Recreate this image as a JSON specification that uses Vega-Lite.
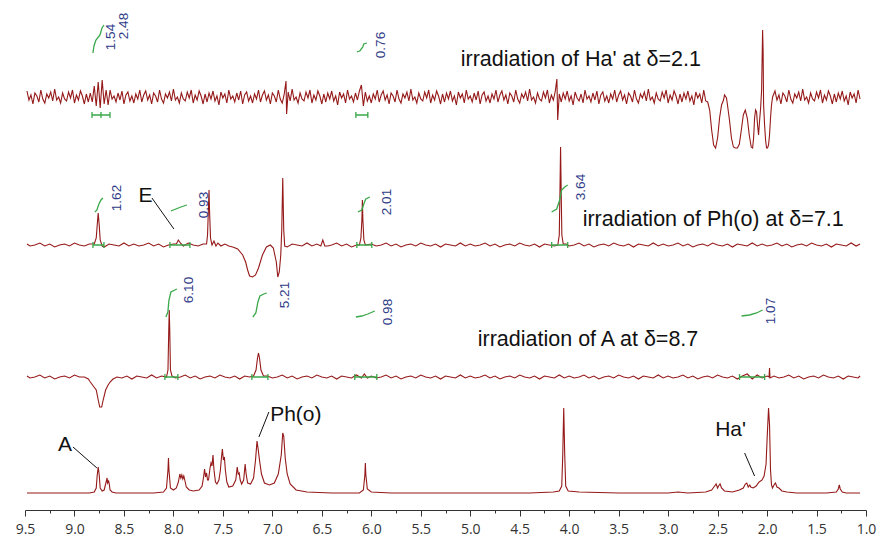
{
"$schema": "https://vega.github.io/schema/vega-lite/v6.json",
"width": 841, "height": 510,
"autosize": {"type": "none"},
"padding": {"left": 25, "top": 0, "right": 14, "bottom": 32},
"background": "white",
"config": {"view": {"stroke": null}},
"datasets": {
"spec": [
{"s":"a","x":9.48,"y":419},{"s":"a","x":9.46,"y":410},{"s":"a","x":9.44,"y":415},{"s":"a","x":9.42,"y":406},{"s":"a","x":9.40,"y":417},{"s":"a","x":9.38,"y":414},{"s":"a","x":9.36,"y":408},{"s":"a","x":9.34,"y":420},{"s":"a","x":9.32,"y":411},{"s":"a","x":9.30,"y":407},{"s":"a","x":9.28,"y":416},{"s":"a","x":9.26,"y":412},{"s":"a","x":9.24,"y":418},{"s":"a","x":9.22,"y":409},{"s":"a","x":9.20,"y":421},{"s":"a","x":9.18,"y":410},{"s":"a","x":9.16,"y":413},{"s":"a","x":9.14,"y":407},{"s":"a","x":9.12,"y":417},{"s":"a","x":9.10,"y":411},
{"s":"a","x":9.08,"y":409},{"s":"a","x":9.06,"y":418},{"s":"a","x":9.04,"y":412},{"s":"a","x":9.02,"y":420},{"s":"a","x":9.00,"y":407},{"s":"a","x":8.98,"y":415},{"s":"a","x":8.96,"y":410},{"s":"a","x":8.94,"y":419},{"s":"a","x":8.92,"y":414},{"s":"a","x":8.90,"y":406},{"s":"a","x":8.88,"y":416},{"s":"a","x":8.86,"y":408},{"s":"a","x":8.84,"y":417},{"s":"a","x":8.82,"y":408},{"s":"a","x":8.80,"y":424},{"s":"a","x":8.78,"y":404},{"s":"a","x":8.76,"y":428},{"s":"a","x":8.74,"y":402},{"s":"a","x":8.72,"y":430},{"s":"a","x":8.70,"y":406},
{"s":"a","x":8.68,"y":420},{"s":"a","x":8.66,"y":405},{"s":"a","x":8.64,"y":420},{"s":"a","x":8.62,"y":411},{"s":"a","x":8.60,"y":414},{"s":"a","x":8.58,"y":408},{"s":"a","x":8.56,"y":417},{"s":"a","x":8.54,"y":410},{"s":"a","x":8.52,"y":419},{"s":"a","x":8.50,"y":406},{"s":"a","x":8.48,"y":415},{"s":"a","x":8.46,"y":418},{"s":"a","x":8.44,"y":409},{"s":"a","x":8.42,"y":414},{"s":"a","x":8.40,"y":407},{"s":"a","x":8.38,"y":416},{"s":"a","x":8.36,"y":411},{"s":"a","x":8.34,"y":420},{"s":"a","x":8.32,"y":408},{"s":"a","x":8.30,"y":415},
{"s":"a","x":8.28,"y":419},{"s":"a","x":8.26,"y":410},{"s":"a","x":8.24,"y":415},{"s":"a","x":8.22,"y":406},{"s":"a","x":8.20,"y":417},{"s":"a","x":8.18,"y":414},{"s":"a","x":8.16,"y":408},{"s":"a","x":8.14,"y":420},{"s":"a","x":8.12,"y":411},{"s":"a","x":8.10,"y":407},{"s":"a","x":8.08,"y":416},{"s":"a","x":8.06,"y":412},{"s":"a","x":8.04,"y":418},{"s":"a","x":8.02,"y":409},{"s":"a","x":8.00,"y":421},{"s":"a","x":7.98,"y":410},{"s":"a","x":7.96,"y":413},{"s":"a","x":7.94,"y":407},{"s":"a","x":7.92,"y":417},{"s":"a","x":7.90,"y":411},
{"s":"a","x":7.88,"y":409},{"s":"a","x":7.86,"y":418},{"s":"a","x":7.84,"y":412},{"s":"a","x":7.82,"y":420},{"s":"a","x":7.80,"y":407},{"s":"a","x":7.78,"y":415},{"s":"a","x":7.76,"y":410},{"s":"a","x":7.74,"y":419},{"s":"a","x":7.72,"y":414},{"s":"a","x":7.70,"y":406},{"s":"a","x":7.68,"y":416},{"s":"a","x":7.66,"y":408},{"s":"a","x":7.64,"y":417},{"s":"a","x":7.62,"y":411},{"s":"a","x":7.60,"y":419},{"s":"a","x":7.58,"y":409},{"s":"a","x":7.56,"y":414},{"s":"a","x":7.54,"y":405},{"s":"a","x":7.52,"y":418},{"s":"a","x":7.50,"y":412},
{"s":"a","x":7.48,"y":416},{"s":"a","x":7.46,"y":407},{"s":"a","x":7.44,"y":420},{"s":"a","x":7.42,"y":411},{"s":"a","x":7.40,"y":414},{"s":"a","x":7.38,"y":408},{"s":"a","x":7.36,"y":417},{"s":"a","x":7.34,"y":410},{"s":"a","x":7.32,"y":419},{"s":"a","x":7.30,"y":406},{"s":"a","x":7.28,"y":415},{"s":"a","x":7.26,"y":418},{"s":"a","x":7.24,"y":409},{"s":"a","x":7.22,"y":414},{"s":"a","x":7.20,"y":407},{"s":"a","x":7.18,"y":416},{"s":"a","x":7.16,"y":411},{"s":"a","x":7.14,"y":420},{"s":"a","x":7.12,"y":408},{"s":"a","x":7.10,"y":415},
{"s":"a","x":7.08,"y":419},{"s":"a","x":7.06,"y":410},{"s":"a","x":7.04,"y":415},{"s":"a","x":7.02,"y":406},{"s":"a","x":7.00,"y":417},{"s":"a","x":6.98,"y":414},{"s":"a","x":6.96,"y":408},{"s":"a","x":6.94,"y":420},{"s":"a","x":6.92,"y":411},{"s":"a","x":6.90,"y":407},{"s":"a","x":6.88,"y":416},{"s":"a","x":6.862,"y":429},{"s":"a","x":6.856,"y":396},{"s":"a","x":6.84,"y":418},{"s":"a","x":6.82,"y":409},{"s":"a","x":6.80,"y":421},{"s":"a","x":6.78,"y":410},{"s":"a","x":6.76,"y":413},{"s":"a","x":6.74,"y":407},{"s":"a","x":6.72,"y":417},{"s":"a","x":6.70,"y":411},
{"s":"a","x":6.68,"y":409},{"s":"a","x":6.66,"y":418},{"s":"a","x":6.64,"y":412},{"s":"a","x":6.62,"y":420},{"s":"a","x":6.60,"y":407},{"s":"a","x":6.58,"y":415},{"s":"a","x":6.56,"y":410},{"s":"a","x":6.54,"y":419},{"s":"a","x":6.52,"y":414},{"s":"a","x":6.50,"y":406},{"s":"a","x":6.48,"y":416},{"s":"a","x":6.46,"y":408},{"s":"a","x":6.44,"y":417},{"s":"a","x":6.42,"y":411},{"s":"a","x":6.40,"y":419},{"s":"a","x":6.38,"y":409},{"s":"a","x":6.36,"y":414},{"s":"a","x":6.34,"y":405},{"s":"a","x":6.32,"y":418},{"s":"a","x":6.30,"y":412},
{"s":"a","x":6.28,"y":416},{"s":"a","x":6.26,"y":407},{"s":"a","x":6.24,"y":420},{"s":"a","x":6.22,"y":411},{"s":"a","x":6.20,"y":414},{"s":"a","x":6.18,"y":408},{"s":"a","x":6.16,"y":417},{"s":"a","x":6.14,"y":410},{"s":"a","x":6.12,"y":419},{"s":"a","x":6.10,"y":425},{"s":"a","x":6.08,"y":404},{"s":"a","x":6.06,"y":418},{"s":"a","x":6.04,"y":409},{"s":"a","x":6.02,"y":414},{"s":"a","x":6.00,"y":407},{"s":"a","x":5.98,"y":416},{"s":"a","x":5.96,"y":411},{"s":"a","x":5.94,"y":420},{"s":"a","x":5.92,"y":408},{"s":"a","x":5.90,"y":415},
{"s":"a","x":5.88,"y":419},{"s":"a","x":5.86,"y":410},{"s":"a","x":5.84,"y":415},{"s":"a","x":5.82,"y":406},{"s":"a","x":5.80,"y":417},{"s":"a","x":5.78,"y":414},{"s":"a","x":5.76,"y":408},{"s":"a","x":5.74,"y":420},{"s":"a","x":5.72,"y":411},{"s":"a","x":5.70,"y":407},{"s":"a","x":5.68,"y":416},{"s":"a","x":5.66,"y":412},{"s":"a","x":5.64,"y":418},{"s":"a","x":5.62,"y":409},{"s":"a","x":5.60,"y":421},{"s":"a","x":5.58,"y":410},{"s":"a","x":5.56,"y":413},{"s":"a","x":5.54,"y":407},{"s":"a","x":5.52,"y":417},{"s":"a","x":5.50,"y":411},
{"s":"a","x":5.48,"y":409},{"s":"a","x":5.46,"y":418},{"s":"a","x":5.44,"y":412},{"s":"a","x":5.42,"y":420},{"s":"a","x":5.40,"y":407},{"s":"a","x":5.38,"y":415},{"s":"a","x":5.36,"y":410},{"s":"a","x":5.34,"y":419},{"s":"a","x":5.32,"y":414},{"s":"a","x":5.30,"y":406},{"s":"a","x":5.28,"y":416},{"s":"a","x":5.26,"y":408},{"s":"a","x":5.24,"y":417},{"s":"a","x":5.22,"y":411},{"s":"a","x":5.20,"y":419},{"s":"a","x":5.18,"y":409},{"s":"a","x":5.16,"y":414},{"s":"a","x":5.14,"y":405},{"s":"a","x":5.12,"y":418},{"s":"a","x":5.10,"y":412},
{"s":"a","x":5.08,"y":416},{"s":"a","x":5.06,"y":407},{"s":"a","x":5.04,"y":420},{"s":"a","x":5.02,"y":411},{"s":"a","x":5.00,"y":414},{"s":"a","x":4.98,"y":408},{"s":"a","x":4.96,"y":417},{"s":"a","x":4.94,"y":410},{"s":"a","x":4.92,"y":419},{"s":"a","x":4.90,"y":406},{"s":"a","x":4.88,"y":415},{"s":"a","x":4.86,"y":418},{"s":"a","x":4.84,"y":409},{"s":"a","x":4.82,"y":414},{"s":"a","x":4.80,"y":407},{"s":"a","x":4.78,"y":416},{"s":"a","x":4.76,"y":411},{"s":"a","x":4.74,"y":420},{"s":"a","x":4.72,"y":408},{"s":"a","x":4.70,"y":415},
{"s":"a","x":4.68,"y":419},{"s":"a","x":4.66,"y":410},{"s":"a","x":4.64,"y":415},{"s":"a","x":4.62,"y":406},{"s":"a","x":4.60,"y":417},{"s":"a","x":4.58,"y":414},{"s":"a","x":4.56,"y":408},{"s":"a","x":4.54,"y":420},{"s":"a","x":4.52,"y":411},{"s":"a","x":4.50,"y":407},{"s":"a","x":4.48,"y":416},{"s":"a","x":4.46,"y":412},{"s":"a","x":4.44,"y":418},{"s":"a","x":4.42,"y":409},{"s":"a","x":4.40,"y":421},{"s":"a","x":4.38,"y":410},{"s":"a","x":4.36,"y":413},{"s":"a","x":4.34,"y":407},{"s":"a","x":4.32,"y":417},{"s":"a","x":4.30,"y":411},
{"s":"a","x":4.28,"y":409},{"s":"a","x":4.26,"y":418},{"s":"a","x":4.24,"y":412},{"s":"a","x":4.22,"y":420},{"s":"a","x":4.20,"y":407},{"s":"a","x":4.18,"y":415},{"s":"a","x":4.16,"y":410},{"s":"a","x":4.14,"y":419},{"s":"a","x":4.124,"y":431},{"s":"a","x":4.116,"y":390},{"s":"a","x":4.10,"y":416},{"s":"a","x":4.08,"y":408},{"s":"a","x":4.06,"y":417},{"s":"a","x":4.04,"y":411},{"s":"a","x":4.02,"y":419},{"s":"a","x":4.00,"y":409},{"s":"a","x":3.98,"y":414},{"s":"a","x":3.96,"y":405},{"s":"a","x":3.94,"y":418},{"s":"a","x":3.92,"y":412},
{"s":"a","x":3.90,"y":409},{"s":"a","x":3.88,"y":416},{"s":"a","x":3.86,"y":407},{"s":"a","x":3.84,"y":420},{"s":"a","x":3.82,"y":411},{"s":"a","x":3.80,"y":414},{"s":"a","x":3.78,"y":408},{"s":"a","x":3.76,"y":417},{"s":"a","x":3.74,"y":410},{"s":"a","x":3.72,"y":419},{"s":"a","x":3.70,"y":406},{"s":"a","x":3.68,"y":415},{"s":"a","x":3.66,"y":418},{"s":"a","x":3.64,"y":409},{"s":"a","x":3.62,"y":414},{"s":"a","x":3.60,"y":407},{"s":"a","x":3.58,"y":416},{"s":"a","x":3.56,"y":411},{"s":"a","x":3.54,"y":420},{"s":"a","x":3.52,"y":408},{"s":"a","x":3.50,"y":415},
{"s":"a","x":3.48,"y":419},{"s":"a","x":3.46,"y":410},{"s":"a","x":3.44,"y":415},{"s":"a","x":3.42,"y":406},{"s":"a","x":3.40,"y":417},{"s":"a","x":3.38,"y":414},{"s":"a","x":3.36,"y":408},{"s":"a","x":3.34,"y":420},{"s":"a","x":3.32,"y":411},{"s":"a","x":3.30,"y":407},{"s":"a","x":3.28,"y":416},{"s":"a","x":3.26,"y":412},{"s":"a","x":3.24,"y":418},{"s":"a","x":3.22,"y":409},{"s":"a","x":3.20,"y":421},{"s":"a","x":3.18,"y":410},{"s":"a","x":3.16,"y":413},{"s":"a","x":3.14,"y":407},{"s":"a","x":3.12,"y":417},{"s":"a","x":3.10,"y":411},
{"s":"a","x":3.08,"y":409},{"s":"a","x":3.06,"y":418},{"s":"a","x":3.04,"y":412},{"s":"a","x":3.02,"y":420},{"s":"a","x":3.00,"y":407},{"s":"a","x":2.98,"y":415},{"s":"a","x":2.96,"y":410},{"s":"a","x":2.94,"y":419},{"s":"a","x":2.92,"y":414},{"s":"a","x":2.90,"y":406},{"s":"a","x":2.88,"y":416},{"s":"a","x":2.86,"y":408},{"s":"a","x":2.84,"y":417},{"s":"a","x":2.82,"y":411},{"s":"a","x":2.80,"y":419},{"s":"a","x":2.78,"y":409},{"s":"a","x":2.76,"y":414},{"s":"a","x":2.74,"y":405},{"s":"a","x":2.72,"y":418},{"s":"a","x":2.70,"y":412},
{"s":"a","x":2.68,"y":416},{"s":"a","x":2.66,"y":407},{"s":"a","x":2.64,"y":420},
{"s":"a","x":2.62,"y":409},{"s":"a","x":2.60,"y":408},{"s":"a","x":2.58,"y":400},{"s":"a","x":2.56,"y":380},{"s":"a","x":2.54,"y":365},{"s":"a","x":2.52,"y":362},{"s":"a","x":2.50,"y":372},{"s":"a","x":2.48,"y":392},{"s":"a","x":2.46,"y":405},{"s":"a","x":2.44,"y":410},{"s":"a","x":2.43,"y":415},{"s":"a","x":2.41,"y":412},{"s":"a","x":2.40,"y":405},{"s":"a","x":2.38,"y":390},{"s":"a","x":2.36,"y":372},{"s":"a","x":2.34,"y":363},{"s":"a","x":2.32,"y":362},{"s":"a","x":2.30,"y":362},{"s":"a","x":2.28,"y":366},{"s":"a","x":2.26,"y":380},{"s":"a","x":2.24,"y":395},{"s":"a","x":2.22,"y":400},{"s":"a","x":2.20,"y":392},{"s":"a","x":2.18,"y":375},{"s":"a","x":2.16,"y":363},{"s":"a","x":2.146,"y":362},{"s":"a","x":2.136,"y":372},{"s":"a","x":2.126,"y":392},{"s":"a","x":2.116,"y":400},{"s":"a","x":2.106,"y":398},{"s":"a","x":2.096,"y":385},{"s":"a","x":2.086,"y":375},{"s":"a","x":2.075,"y":390},{"s":"a","x":2.065,"y":402},{"s":"a","x":2.055,"y":420},{"s":"a","x":2.045,"y":480},{"s":"a","x":2.04,"y":460},{"s":"a","x":2.035,"y":405},{"s":"a","x":2.025,"y":385},{"s":"a","x":2.015,"y":370},{"s":"a","x":2.005,"y":362},{"s":"a","x":1.995,"y":362},{"s":"a","x":1.985,"y":365},{"s":"a","x":1.975,"y":375},{"s":"a","x":1.965,"y":392},{"s":"a","x":1.955,"y":405},{"s":"a","x":1.944,"y":413},
{"s":"a","x":1.92,"y":419},{"s":"a","x":1.90,"y":410},{"s":"a","x":1.88,"y":415},{"s":"a","x":1.86,"y":406},{"s":"a","x":1.84,"y":417},{"s":"a","x":1.82,"y":414},{"s":"a","x":1.80,"y":408},{"s":"a","x":1.78,"y":420},{"s":"a","x":1.76,"y":411},{"s":"a","x":1.74,"y":407},{"s":"a","x":1.72,"y":416},{"s":"a","x":1.70,"y":412},{"s":"a","x":1.68,"y":418},{"s":"a","x":1.66,"y":409},{"s":"a","x":1.64,"y":421},{"s":"a","x":1.62,"y":410},{"s":"a","x":1.60,"y":413},{"s":"a","x":1.58,"y":407},{"s":"a","x":1.56,"y":417},{"s":"a","x":1.54,"y":411},
{"s":"a","x":1.52,"y":409},{"s":"a","x":1.50,"y":418},{"s":"a","x":1.48,"y":412},{"s":"a","x":1.46,"y":420},{"s":"a","x":1.44,"y":407},{"s":"a","x":1.42,"y":415},{"s":"a","x":1.40,"y":410},{"s":"a","x":1.38,"y":419},{"s":"a","x":1.36,"y":414},{"s":"a","x":1.34,"y":406},{"s":"a","x":1.32,"y":416},{"s":"a","x":1.30,"y":408},{"s":"a","x":1.28,"y":417},{"s":"a","x":1.26,"y":411},{"s":"a","x":1.24,"y":419},{"s":"a","x":1.22,"y":409},{"s":"a","x":1.20,"y":414},{"s":"a","x":1.18,"y":405},{"s":"a","x":1.16,"y":418},{"s":"a","x":1.14,"y":412},{"s":"a","x":1.12,"y":416},{"s":"a","x":1.10,"y":407},{"s":"a","x":1.08,"y":420},{"s":"a","x":1.06,"y":411},

{"s":"b","x":9.48,"y":266},{"s":"b","x":9.45,"y":264},{"s":"b","x":9.40,"y":265},{"s":"b","x":9.35,"y":267},{"s":"b","x":9.30,"y":264},{"s":"b","x":9.25,"y":266},{"s":"b","x":9.20,"y":263},{"s":"b","x":9.15,"y":265},{"s":"b","x":9.10,"y":266},{"s":"b","x":9.05,"y":264},{"s":"b","x":9.00,"y":267},{"s":"b","x":8.95,"y":265},{"s":"b","x":8.90,"y":264},{"s":"b","x":8.85,"y":266},
{"s":"b","x":8.80,"y":266},{"s":"b","x":8.78,"y":272},{"s":"b","x":8.77,"y":285},{"s":"b","x":8.76,"y":297},{"s":"b","x":8.75,"y":285},{"s":"b","x":8.74,"y":270},{"s":"b","x":8.72,"y":264},
{"s":"b","x":8.70,"y":263},{"s":"b","x":8.65,"y":266},{"s":"b","x":8.60,"y":265},{"s":"b","x":8.55,"y":264},{"s":"b","x":8.50,"y":267},{"s":"b","x":8.45,"y":264},{"s":"b","x":8.40,"y":266},{"s":"b","x":8.35,"y":264},{"s":"b","x":8.30,"y":265},{"s":"b","x":8.25,"y":267},{"s":"b","x":8.20,"y":264},{"s":"b","x":8.15,"y":266},{"s":"b","x":8.10,"y":263},{"s":"b","x":8.05,"y":265},{"s":"b","x":8.00,"y":266},
{"s":"b","x":7.97,"y":266},{"s":"b","x":7.95,"y":270},{"s":"b","x":7.93,"y":267},
{"s":"b","x":7.90,"y":264},{"s":"b","x":7.85,"y":267},{"s":"b","x":7.80,"y":265},{"s":"b","x":7.75,"y":264},{"s":"b","x":7.70,"y":266},
{"s":"b","x":7.665,"y":266},{"s":"b","x":7.655,"y":275},{"s":"b","x":7.645,"y":305},{"s":"b","x":7.64,"y":320},{"s":"b","x":7.635,"y":300},{"s":"b","x":7.625,"y":272},{"s":"b","x":7.61,"y":265},{"s":"b","x":7.59,"y":269},{"s":"b","x":7.57,"y":264},{"s":"b","x":7.55,"y":267},{"s":"b","x":7.52,"y":264},{"s":"b","x":7.48,"y":266},{"s":"b","x":7.44,"y":264},
{"s":"b","x":7.40,"y":263},{"s":"b","x":7.35,"y":261},{"s":"b","x":7.30,"y":255},{"s":"b","x":7.27,"y":248},{"s":"b","x":7.25,"y":240},{"s":"b","x":7.23,"y":234},{"s":"b","x":7.20,"y":233},{"s":"b","x":7.17,"y":235},{"s":"b","x":7.14,"y":242},{"s":"b","x":7.10,"y":255},{"s":"b","x":7.06,"y":263},{"s":"b","x":7.02,"y":265},{"s":"b","x":6.99,"y":262},{"s":"b","x":6.96,"y":248},{"s":"b","x":6.945,"y":233},{"s":"b","x":6.93,"y":238},{"s":"b","x":6.915,"y":255},{"s":"b","x":6.905,"y":280},{"s":"b","x":6.895,"y":332},{"s":"b","x":6.885,"y":280},{"s":"b","x":6.875,"y":264},
{"s":"b","x":6.85,"y":263},{"s":"b","x":6.80,"y":266},{"s":"b","x":6.75,"y":265},{"s":"b","x":6.70,"y":264},{"s":"b","x":6.65,"y":267},{"s":"b","x":6.60,"y":264},{"s":"b","x":6.55,"y":266},{"s":"b","x":6.51,"y":264},{"s":"b","x":6.49,"y":270},{"s":"b","x":6.47,"y":264},{"s":"b","x":6.44,"y":264},{"s":"b","x":6.40,"y":265},{"s":"b","x":6.35,"y":267},{"s":"b","x":6.30,"y":264},{"s":"b","x":6.25,"y":266},{"s":"b","x":6.20,"y":263},{"s":"b","x":6.15,"y":265},
{"s":"b","x":6.12,"y":265},{"s":"b","x":6.105,"y":272},{"s":"b","x":6.095,"y":290},{"s":"b","x":6.09,"y":310},{"s":"b","x":6.085,"y":290},{"s":"b","x":6.075,"y":270},{"s":"b","x":6.06,"y":265},
{"s":"b","x":6.00,"y":266},{"s":"b","x":5.95,"y":264},{"s":"b","x":5.90,"y":265},{"s":"b","x":5.85,"y":267},{"s":"b","x":5.80,"y":264},{"s":"b","x":5.75,"y":266},{"s":"b","x":5.70,"y":263},{"s":"b","x":5.65,"y":265},{"s":"b","x":5.60,"y":266},{"s":"b","x":5.55,"y":264},{"s":"b","x":5.50,"y":267},{"s":"b","x":5.45,"y":265},{"s":"b","x":5.40,"y":264},{"s":"b","x":5.35,"y":266},{"s":"b","x":5.30,"y":263},{"s":"b","x":5.25,"y":266},{"s":"b","x":5.20,"y":265},{"s":"b","x":5.15,"y":264},{"s":"b","x":5.10,"y":267},{"s":"b","x":5.05,"y":264},{"s":"b","x":5.00,"y":266},{"s":"b","x":4.95,"y":264},{"s":"b","x":4.90,"y":265},{"s":"b","x":4.85,"y":267},{"s":"b","x":4.80,"y":264},{"s":"b","x":4.75,"y":266},{"s":"b","x":4.70,"y":263},{"s":"b","x":4.65,"y":265},{"s":"b","x":4.60,"y":266},{"s":"b","x":4.55,"y":264},{"s":"b","x":4.50,"y":267},{"s":"b","x":4.45,"y":265},{"s":"b","x":4.40,"y":264},{"s":"b","x":4.35,"y":266},{"s":"b","x":4.30,"y":263},{"s":"b","x":4.25,"y":266},{"s":"b","x":4.20,"y":265},{"s":"b","x":4.15,"y":264},
{"s":"b","x":4.115,"y":265},{"s":"b","x":4.10,"y":275},{"s":"b","x":4.093,"y":320},{"s":"b","x":4.087,"y":363},{"s":"b","x":4.081,"y":320},{"s":"b","x":4.074,"y":275},{"s":"b","x":4.06,"y":266},
{"s":"b","x":4.03,"y":266},{"s":"b","x":4.00,"y":264},{"s":"b","x":3.95,"y":265},{"s":"b","x":3.90,"y":267},{"s":"b","x":3.85,"y":264},{"s":"b","x":3.80,"y":266},{"s":"b","x":3.75,"y":263},{"s":"b","x":3.70,"y":265},{"s":"b","x":3.65,"y":266},{"s":"b","x":3.60,"y":264},{"s":"b","x":3.55,"y":267},{"s":"b","x":3.50,"y":265},{"s":"b","x":3.45,"y":264},{"s":"b","x":3.40,"y":266},{"s":"b","x":3.35,"y":263},{"s":"b","x":3.30,"y":266},{"s":"b","x":3.25,"y":265},{"s":"b","x":3.20,"y":264},{"s":"b","x":3.15,"y":267},{"s":"b","x":3.10,"y":264},{"s":"b","x":3.05,"y":266},{"s":"b","x":3.00,"y":264},{"s":"b","x":2.95,"y":265},{"s":"b","x":2.90,"y":267},{"s":"b","x":2.85,"y":264},{"s":"b","x":2.80,"y":266},{"s":"b","x":2.75,"y":263},{"s":"b","x":2.70,"y":265},{"s":"b","x":2.65,"y":266},{"s":"b","x":2.60,"y":264},{"s":"b","x":2.55,"y":267},{"s":"b","x":2.50,"y":265},{"s":"b","x":2.45,"y":264},{"s":"b","x":2.40,"y":266},{"s":"b","x":2.35,"y":263},{"s":"b","x":2.30,"y":266},{"s":"b","x":2.25,"y":265},{"s":"b","x":2.20,"y":264},{"s":"b","x":2.15,"y":267},{"s":"b","x":2.10,"y":264},{"s":"b","x":2.05,"y":266},{"s":"b","x":2.00,"y":264},{"s":"b","x":1.95,"y":265},{"s":"b","x":1.90,"y":267},{"s":"b","x":1.85,"y":264},{"s":"b","x":1.80,"y":266},{"s":"b","x":1.75,"y":263},{"s":"b","x":1.70,"y":265},{"s":"b","x":1.65,"y":266},{"s":"b","x":1.60,"y":264},{"s":"b","x":1.55,"y":267},{"s":"b","x":1.50,"y":265},{"s":"b","x":1.45,"y":264},{"s":"b","x":1.40,"y":266},{"s":"b","x":1.35,"y":263},{"s":"b","x":1.30,"y":266},{"s":"b","x":1.25,"y":265},{"s":"b","x":1.20,"y":264},{"s":"b","x":1.15,"y":267},{"s":"b","x":1.10,"y":264},{"s":"b","x":1.06,"y":266},

{"s":"c","x":9.48,"y":134},{"s":"c","x":9.45,"y":132},{"s":"c","x":9.40,"y":133},{"s":"c","x":9.35,"y":135},{"s":"c","x":9.30,"y":132},{"s":"c","x":9.25,"y":134},{"s":"c","x":9.20,"y":131},{"s":"c","x":9.15,"y":133},{"s":"c","x":9.10,"y":134},{"s":"c","x":9.05,"y":132},{"s":"c","x":9.00,"y":135},{"s":"c","x":8.95,"y":133},
{"s":"c","x":8.90,"y":133},{"s":"c","x":8.86,"y":131},{"s":"c","x":8.84,"y":128},{"s":"c","x":8.81,"y":124},{"s":"c","x":8.78,"y":120},{"s":"c","x":8.76,"y":110},{"s":"c","x":8.745,"y":103},{"s":"c","x":8.725,"y":103},{"s":"c","x":8.71,"y":110},{"s":"c","x":8.685,"y":120},{"s":"c","x":8.66,"y":125},{"s":"c","x":8.64,"y":128},{"s":"c","x":8.61,"y":131},{"s":"c","x":8.57,"y":133},
{"s":"c","x":8.52,"y":132},{"s":"c","x":8.47,"y":134},{"s":"c","x":8.42,"y":131},{"s":"c","x":8.37,"y":134},{"s":"c","x":8.32,"y":133},{"s":"c","x":8.27,"y":132},{"s":"c","x":8.22,"y":135},{"s":"c","x":8.17,"y":132},{"s":"c","x":8.12,"y":134},
{"s":"c","x":8.07,"y":133},{"s":"c","x":8.055,"y":140},{"s":"c","x":8.047,"y":180},{"s":"c","x":8.042,"y":200},{"s":"c","x":8.037,"y":180},{"s":"c","x":8.03,"y":140},{"s":"c","x":8.015,"y":134},
{"s":"c","x":7.98,"y":132},{"s":"c","x":7.93,"y":133},{"s":"c","x":7.88,"y":135},{"s":"c","x":7.83,"y":132},{"s":"c","x":7.78,"y":134},{"s":"c","x":7.73,"y":131},{"s":"c","x":7.68,"y":133},{"s":"c","x":7.63,"y":134},{"s":"c","x":7.58,"y":132},{"s":"c","x":7.53,"y":135},{"s":"c","x":7.48,"y":133},{"s":"c","x":7.43,"y":132},{"s":"c","x":7.38,"y":134},{"s":"c","x":7.33,"y":131},{"s":"c","x":7.28,"y":134},{"s":"c","x":7.23,"y":133},
{"s":"c","x":7.19,"y":134},{"s":"c","x":7.165,"y":140},{"s":"c","x":7.15,"y":152},{"s":"c","x":7.14,"y":157},{"s":"c","x":7.13,"y":152},{"s":"c","x":7.115,"y":140},{"s":"c","x":7.09,"y":134},
{"s":"c","x":7.05,"y":134},{"s":"c","x":7.00,"y":132},{"s":"c","x":6.95,"y":133},{"s":"c","x":6.90,"y":135},{"s":"c","x":6.85,"y":132},{"s":"c","x":6.80,"y":134},{"s":"c","x":6.75,"y":131},{"s":"c","x":6.70,"y":133},{"s":"c","x":6.65,"y":134},{"s":"c","x":6.60,"y":132},{"s":"c","x":6.55,"y":135},{"s":"c","x":6.50,"y":133},{"s":"c","x":6.45,"y":132},{"s":"c","x":6.40,"y":134},{"s":"c","x":6.35,"y":131},{"s":"c","x":6.30,"y":134},{"s":"c","x":6.25,"y":133},{"s":"c","x":6.20,"y":132},{"s":"c","x":6.15,"y":135},{"s":"c","x":6.10,"y":132},{"s":"c","x":6.07,"y":136},{"s":"c","x":6.04,"y":132},{"s":"c","x":6.00,"y":134},{"s":"c","x":5.95,"y":132},{"s":"c","x":5.90,"y":133},{"s":"c","x":5.85,"y":135},{"s":"c","x":5.80,"y":132},{"s":"c","x":5.75,"y":134},{"s":"c","x":5.70,"y":131},{"s":"c","x":5.65,"y":133},{"s":"c","x":5.60,"y":134},{"s":"c","x":5.55,"y":132},{"s":"c","x":5.50,"y":135},{"s":"c","x":5.45,"y":133},{"s":"c","x":5.40,"y":132},{"s":"c","x":5.35,"y":134},{"s":"c","x":5.30,"y":131},{"s":"c","x":5.25,"y":134},{"s":"c","x":5.20,"y":133},{"s":"c","x":5.15,"y":132},{"s":"c","x":5.10,"y":135},{"s":"c","x":5.05,"y":132},{"s":"c","x":5.00,"y":134},{"s":"c","x":4.95,"y":132},{"s":"c","x":4.90,"y":133},{"s":"c","x":4.85,"y":135},{"s":"c","x":4.80,"y":132},{"s":"c","x":4.75,"y":134},{"s":"c","x":4.70,"y":131},{"s":"c","x":4.65,"y":133},{"s":"c","x":4.60,"y":134},{"s":"c","x":4.55,"y":132},{"s":"c","x":4.50,"y":135},{"s":"c","x":4.45,"y":133},{"s":"c","x":4.40,"y":132},{"s":"c","x":4.35,"y":134},{"s":"c","x":4.30,"y":131},{"s":"c","x":4.25,"y":134},{"s":"c","x":4.20,"y":133},{"s":"c","x":4.15,"y":132},{"s":"c","x":4.10,"y":135},{"s":"c","x":4.05,"y":132},{"s":"c","x":4.00,"y":134},{"s":"c","x":3.95,"y":132},{"s":"c","x":3.90,"y":133},{"s":"c","x":3.85,"y":135},{"s":"c","x":3.80,"y":132},{"s":"c","x":3.75,"y":134},{"s":"c","x":3.70,"y":131},{"s":"c","x":3.65,"y":133},{"s":"c","x":3.60,"y":134},{"s":"c","x":3.55,"y":132},{"s":"c","x":3.50,"y":135},{"s":"c","x":3.45,"y":133},{"s":"c","x":3.40,"y":132},{"s":"c","x":3.35,"y":134},{"s":"c","x":3.30,"y":131},{"s":"c","x":3.25,"y":134},{"s":"c","x":3.20,"y":133},{"s":"c","x":3.15,"y":132},{"s":"c","x":3.10,"y":135},{"s":"c","x":3.05,"y":132},{"s":"c","x":3.00,"y":134},{"s":"c","x":2.95,"y":132},{"s":"c","x":2.90,"y":133},{"s":"c","x":2.85,"y":135},{"s":"c","x":2.80,"y":132},{"s":"c","x":2.75,"y":134},{"s":"c","x":2.70,"y":131},{"s":"c","x":2.65,"y":133},{"s":"c","x":2.60,"y":134},{"s":"c","x":2.55,"y":132},{"s":"c","x":2.50,"y":135},{"s":"c","x":2.45,"y":133},{"s":"c","x":2.40,"y":132},{"s":"c","x":2.35,"y":134},{"s":"c","x":2.30,"y":131},{"s":"c","x":2.25,"y":134},{"s":"c","x":2.20,"y":136},{"s":"c","x":2.15,"y":131},{"s":"c","x":2.10,"y":135},{"s":"c","x":2.05,"y":132},{"s":"c","x":2.00,"y":134},
{"s":"c","x":1.98,"y":133},{"s":"c","x":1.975,"y":142},{"s":"c","x":1.97,"y":132},
{"s":"c","x":1.93,"y":134},{"s":"c","x":1.88,"y":132},{"s":"c","x":1.83,"y":133},{"s":"c","x":1.78,"y":135},{"s":"c","x":1.73,"y":132},{"s":"c","x":1.68,"y":134},{"s":"c","x":1.63,"y":131},{"s":"c","x":1.58,"y":133},{"s":"c","x":1.53,"y":134},{"s":"c","x":1.48,"y":132},{"s":"c","x":1.43,"y":135},{"s":"c","x":1.38,"y":133},{"s":"c","x":1.33,"y":132},{"s":"c","x":1.28,"y":134},{"s":"c","x":1.23,"y":131},{"s":"c","x":1.18,"y":134},{"s":"c","x":1.13,"y":133},{"s":"c","x":1.08,"y":132},{"s":"c","x":1.06,"y":134},

{"s":"d","x":9.48,"y":17},{"s":"d","x":9.0,"y":17},{"s":"d","x":8.85,"y":17},{"s":"d","x":8.80,"y":18},{"s":"d","x":8.78,"y":22},{"s":"d","x":8.77,"y":35},{"s":"d","x":8.76,"y":43},{"s":"d","x":8.75,"y":35},{"s":"d","x":8.74,"y":22},{"s":"d","x":8.72,"y":19},{"s":"d","x":8.70,"y":20},{"s":"d","x":8.68,"y":28},{"s":"d","x":8.67,"y":32},{"s":"d","x":8.665,"y":27},{"s":"d","x":8.655,"y":29},{"s":"d","x":8.65,"y":27},{"s":"d","x":8.64,"y":20},{"s":"d","x":8.62,"y":18},{"s":"d","x":8.58,"y":17},{"s":"d","x":8.2,"y":17},{"s":"d","x":8.10,"y":18},{"s":"d","x":8.07,"y":22},{"s":"d","x":8.055,"y":40},{"s":"d","x":8.05,"y":52},{"s":"d","x":8.045,"y":40},{"s":"d","x":8.03,"y":22},{"s":"d","x":8.00,"y":20},{"s":"d","x":7.97,"y":22},{"s":"d","x":7.95,"y":28},{"s":"d","x":7.935,"y":36},{"s":"d","x":7.925,"y":32},{"s":"d","x":7.915,"y":35},{"s":"d","x":7.905,"y":31},{"s":"d","x":7.895,"y":34},{"s":"d","x":7.885,"y":30},{"s":"d","x":7.87,"y":23},{"s":"d","x":7.84,"y":20},{"s":"d","x":7.80,"y":19},{"s":"d","x":7.74,"y":20},{"s":"d","x":7.71,"y":24},{"s":"d","x":7.695,"y":33},{"s":"d","x":7.685,"y":41},{"s":"d","x":7.675,"y":33},{"s":"d","x":7.665,"y":37},{"s":"d","x":7.655,"y":30},{"s":"d","x":7.645,"y":30},{"s":"d","x":7.63,"y":42},{"s":"d","x":7.62,"y":47},{"s":"d","x":7.61,"y":44},{"s":"d","x":7.60,"y":55},{"s":"d","x":7.59,"y":40},{"s":"d","x":7.575,"y":28},{"s":"d","x":7.56,"y":26},{"s":"d","x":7.54,"y":30},{"s":"d","x":7.525,"y":40},{"s":"d","x":7.515,"y":52},{"s":"d","x":7.505,"y":61},{"s":"d","x":7.495,"y":50},{"s":"d","x":7.485,"y":53},{"s":"d","x":7.475,"y":40},{"s":"d","x":7.46,"y":28},{"s":"d","x":7.44,"y":23},{"s":"d","x":7.40,"y":24},{"s":"d","x":7.37,"y":30},{"s":"d","x":7.355,"y":43},{"s":"d","x":7.345,"y":36},{"s":"d","x":7.335,"y":37},{"s":"d","x":7.325,"y":30},{"s":"d","x":7.31,"y":26},{"s":"d","x":7.29,"y":30},{"s":"d","x":7.275,"y":46},{"s":"d","x":7.265,"y":36},{"s":"d","x":7.25,"y":27},{"s":"d","x":7.22,"y":26},{"s":"d","x":7.19,"y":32},{"s":"d","x":7.17,"y":50},{"s":"d","x":7.155,"y":69},{"s":"d","x":7.145,"y":62},{"s":"d","x":7.13,"y":50},{"s":"d","x":7.11,"y":36},{"s":"d","x":7.08,"y":27},{"s":"d","x":7.03,"y":25},{"s":"d","x":6.98,"y":27},{"s":"d","x":6.94,"y":36},{"s":"d","x":6.91,"y":55},{"s":"d","x":6.895,"y":77},{"s":"d","x":6.885,"y":74},{"s":"d","x":6.87,"y":52},{"s":"d","x":6.85,"y":36},{"s":"d","x":6.82,"y":26},{"s":"d","x":6.76,"y":20},{"s":"d","x":6.65,"y":18},{"s":"d","x":6.4,"y":17},{"s":"d","x":6.12,"y":17},{"s":"d","x":6.08,"y":20},{"s":"d","x":6.065,"y":35},{"s":"d","x":6.06,"y":47},{"s":"d","x":6.055,"y":35},{"s":"d","x":6.04,"y":21},{"s":"d","x":6.0,"y":18},{"s":"d","x":5.8,"y":17},{"s":"d","x":5.0,"y":17},{"s":"d","x":4.4,"y":17},{"s":"d","x":4.16,"y":18},{"s":"d","x":4.10,"y":19},{"s":"d","x":4.075,"y":24},{"s":"d","x":4.065,"y":55},{"s":"d","x":4.055,"y":102},{"s":"d","x":4.045,"y":55},{"s":"d","x":4.035,"y":24},{"s":"d","x":4.01,"y":19},{"s":"d","x":3.9,"y":18},{"s":"d","x":3.5,"y":17},{"s":"d","x":3.0,"y":17},{"s":"d","x":2.9,"y":18},{"s":"d","x":2.8,"y":17},{"s":"d","x":2.62,"y":18},{"s":"d","x":2.56,"y":20},{"s":"d","x":2.53,"y":24},{"s":"d","x":2.515,"y":26},{"s":"d","x":2.50,"y":22},{"s":"d","x":2.49,"y":24},{"s":"d","x":2.475,"y":26},{"s":"d","x":2.46,"y":22},{"s":"d","x":2.43,"y":19},{"s":"d","x":2.35,"y":18},{"s":"d","x":2.28,"y":20},{"s":"d","x":2.24,"y":22},{"s":"d","x":2.22,"y":26},{"s":"d","x":2.205,"y":27},{"s":"d","x":2.19,"y":23},{"s":"d","x":2.175,"y":25},{"s":"d","x":2.165,"y":23},{"s":"d","x":2.14,"y":22},{"s":"d","x":2.11,"y":24},{"s":"d","x":2.08,"y":28},{"s":"d","x":2.05,"y":30},{"s":"d","x":2.03,"y":34},{"s":"d","x":2.01,"y":46},{"s":"d","x":2.0,"y":70},{"s":"d","x":1.985,"y":102},{"s":"d","x":1.975,"y":85},{"s":"d","x":1.965,"y":40},{"s":"d","x":1.955,"y":25},{"s":"d","x":1.945,"y":22},{"s":"d","x":1.925,"y":26},{"s":"d","x":1.915,"y":27},{"s":"d","x":1.90,"y":23},{"s":"d","x":1.88,"y":22},{"s":"d","x":1.85,"y":19},{"s":"d","x":1.80,"y":18},{"s":"d","x":1.7,"y":17},{"s":"d","x":1.4,"y":17},{"s":"d","x":1.30,"y":18},{"s":"d","x":1.28,"y":21},{"s":"d","x":1.27,"y":25},{"s":"d","x":1.26,"y":21},{"s":"d","x":1.24,"y":18},{"s":"d","x":1.2,"y":17},{"s":"d","x":1.06,"y":17}
],
"green": [
{"g":1,"o":1,"x":8.813,"y":457},{"g":1,"o":2,"x":8.803,"y":464},{"g":1,"o":3,"x":8.783,"y":470},{"g":1,"o":4,"x":8.742,"y":475},{"g":1,"o":5,"x":8.722,"y":482},{"g":1,"o":6,"x":8.702,"y":485},
{"g":2,"o":1,"x":6.146,"y":458},{"g":2,"o":2,"x":6.116,"y":459},{"g":2,"o":3,"x":6.086,"y":463},{"g":2,"o":4,"x":6.076,"y":466},{"g":2,"o":5,"x":6.045,"y":467},
{"g":3,"o":1,"x":8.823,"y":398},{"g":3,"o":2,"x":8.823,"y":392},{"g":3,"o":3,"x":8.823,"y":395},{"g":3,"o":4,"x":8.732,"y":395},{"g":3,"o":5,"x":8.732,"y":398},{"g":3,"o":6,"x":8.732,"y":392},
{"g":4,"o":1,"x":8.732,"y":395},{"g":4,"o":2,"x":8.641,"y":395},{"g":4,"o":3,"x":8.641,"y":398},{"g":4,"o":4,"x":8.641,"y":392},
{"g":5,"o":1,"x":6.156,"y":398},{"g":5,"o":2,"x":6.156,"y":392},{"g":5,"o":3,"x":6.156,"y":395},{"g":5,"o":4,"x":6.035,"y":395},{"g":5,"o":5,"x":6.035,"y":398},{"g":5,"o":6,"x":6.035,"y":392},
{"g":6,"o":1,"x":8.793,"y":298},{"g":6,"o":2,"x":8.773,"y":300},{"g":6,"o":3,"x":8.753,"y":306},{"g":6,"o":4,"x":8.732,"y":310},{"g":6,"o":5,"x":8.712,"y":312},
{"g":7,"o":1,"x":8.025,"y":299},{"g":7,"o":2,"x":7.975,"y":301},{"g":7,"o":3,"x":7.924,"y":303},{"g":7,"o":4,"x":7.864,"y":305},
{"g":8,"o":1,"x":6.136,"y":298},{"g":8,"o":2,"x":6.096,"y":300},{"g":8,"o":3,"x":6.076,"y":306},{"g":8,"o":4,"x":6.056,"y":311},{"g":8,"o":5,"x":6.015,"y":313},
{"g":9,"o":1,"x":4.177,"y":298},{"g":9,"o":2,"x":4.126,"y":301},{"g":9,"o":3,"x":4.096,"y":310},{"g":9,"o":4,"x":4.076,"y":320},{"g":9,"o":5,"x":4.045,"y":323},{"g":9,"o":6,"x":4.015,"y":325},
{"g":10,"o":1,"x":8.813,"y":268},{"g":10,"o":2,"x":8.813,"y":262},{"g":10,"o":3,"x":8.813,"y":265},{"g":10,"o":4,"x":8.702,"y":265},{"g":10,"o":5,"x":8.702,"y":268},{"g":10,"o":6,"x":8.702,"y":262},
{"g":11,"o":1,"x":8.035,"y":268},{"g":11,"o":2,"x":8.035,"y":262},{"g":11,"o":3,"x":8.035,"y":265},{"g":11,"o":4,"x":7.833,"y":265},{"g":11,"o":5,"x":7.833,"y":268},{"g":11,"o":6,"x":7.833,"y":262},
{"g":12,"o":1,"x":6.146,"y":268},{"g":12,"o":2,"x":6.146,"y":262},{"g":12,"o":3,"x":6.146,"y":265},{"g":12,"o":4,"x":5.995,"y":265},{"g":12,"o":5,"x":5.995,"y":268},{"g":12,"o":6,"x":5.995,"y":262},
{"g":13,"o":1,"x":4.177,"y":268},{"g":13,"o":2,"x":4.177,"y":262},{"g":13,"o":3,"x":4.177,"y":265},{"g":13,"o":4,"x":4.015,"y":265},{"g":13,"o":5,"x":4.015,"y":268},{"g":13,"o":6,"x":4.015,"y":262},
{"g":14,"o":1,"x":8.076,"y":193},{"g":14,"o":2,"x":8.056,"y":198},{"g":14,"o":3,"x":8.045,"y":210},{"g":14,"o":4,"x":8.025,"y":218},{"g":14,"o":5,"x":7.985,"y":220},{"g":14,"o":6,"x":7.965,"y":221},
{"g":15,"o":1,"x":7.197,"y":193},{"g":15,"o":2,"x":7.167,"y":197},{"g":15,"o":3,"x":7.146,"y":208},{"g":15,"o":4,"x":7.126,"y":214},{"g":15,"o":5,"x":7.086,"y":216},{"g":15,"o":6,"x":7.056,"y":217},
{"g":16,"o":1,"x":6.156,"y":193},{"g":16,"o":2,"x":6.096,"y":194},{"g":16,"o":3,"x":6.035,"y":196},{"g":16,"o":4,"x":5.965,"y":199},
{"g":17,"o":1,"x":2.258,"y":194},{"g":17,"o":2,"x":2.177,"y":195},{"g":17,"o":3,"x":2.106,"y":197},{"g":17,"o":4,"x":2.045,"y":200},
{"g":18,"o":1,"x":8.086,"y":136},{"g":18,"o":2,"x":8.086,"y":130},{"g":18,"o":3,"x":8.086,"y":133},{"g":18,"o":4,"x":7.955,"y":133},{"g":18,"o":5,"x":7.955,"y":136},{"g":18,"o":6,"x":7.955,"y":130},
{"g":19,"o":1,"x":7.207,"y":136},{"g":19,"o":2,"x":7.207,"y":130},{"g":19,"o":3,"x":7.207,"y":133},{"g":19,"o":4,"x":7.045,"y":133},{"g":19,"o":5,"x":7.045,"y":136},{"g":19,"o":6,"x":7.045,"y":130},
{"g":20,"o":1,"x":6.167,"y":136},{"g":20,"o":2,"x":6.167,"y":130},{"g":20,"o":3,"x":6.167,"y":133},{"g":20,"o":4,"x":5.944,"y":133},{"g":20,"o":5,"x":5.944,"y":136},{"g":20,"o":6,"x":5.944,"y":130},
{"g":21,"o":1,"x":2.278,"y":136},{"g":21,"o":2,"x":2.278,"y":130},{"g":21,"o":3,"x":2.278,"y":133},{"g":21,"o":4,"x":2.025,"y":133},{"g":21,"o":5,"x":2.025,"y":136},{"g":21,"o":6,"x":2.025,"y":130}
],
"leaders": [
{"g":1,"o":1,"x":9.015,"y":63},{"g":1,"o":2,"x":8.773,"y":42},
{"g":2,"o":1,"x":7.035,"y":98},{"g":2,"o":2,"x":7.136,"y":73},
{"g":3,"o":1,"x":2.227,"y":57},{"g":3,"o":2,"x":2.126,"y":34},
{"g":4,"o":1,"x":8.217,"y":312},{"g":4,"o":2,"x":7.995,"y":281}
],
"nums": [
{"t":"1.54","x":8.631,"y":473},{"t":"2.48","x":8.5,"y":484},{"t":"0.76","x":5.904,"y":465},
{"t":"1.62","x":8.571,"y":312},{"t":"0.93","x":7.692,"y":305},{"t":"2.01","x":5.843,"y":308},{"t":"3.64","x":3.884,"y":323},
{"t":"6.10","x":7.843,"y":220},{"t":"5.21","x":6.874,"y":215},{"t":"0.98","x":5.833,"y":198},{"t":"1.07","x":1.965,"y":199}
],
"tags": [
{"t":"E","x":8.283,"y":314},{"t":"A","x":9.096,"y":65},{"t":"Ph(o)","x":6.763,"y":95},{"t":"Ha'","x":2.369,"y":80}
],
"titles": [
{"t":"irradiation of Ha' at δ=2.1","x":5.096,"y":444},
{"t":"irradiation of Ph(o) at δ=7.1","x":3.864,"y":284},
{"t":"irradiation of A at δ=8.7","x":4.924,"y":164}
]
},
"encoding": {
"x": {"field": "x", "type": "quantitative", "scale": {"domain": [1.0, 9.5], "reverse": true, "nice": false, "zero": false},
 "axis": {"title": null, "grid": false,
  "values": [9.5,9.25,9.0,8.75,8.5,8.25,8.0,7.75,7.5,7.25,7.0,6.75,6.5,6.25,6.0,5.75,5.5,5.25,5.0,4.75,4.5,4.25,4.0,3.75,3.5,3.25,3.0,2.75,2.5,2.25,2.0,1.75,1.5,1.25,1.0],
  "labelExpr": "abs(datum.value*2-round(datum.value*2))<0.01 ? format(datum.value,'.1f') : ''",
  "tickSize": {"condition": {"test": "abs(datum.value*2-round(datum.value*2))<0.01", "value": 6}, "value": 3},
  "labelFont": "Open Sans", "labelFontSize": 14, "labelColor": "#333333", "labelPadding": 6,
  "labelFlush": false, "labelOverlap": false,
  "domainColor": "#333333", "tickColor": "#333333", "domainWidth": 1, "tickWidth": 1}},
"y": {"field": "y", "type": "quantitative", "scale": {"domain": [0, 510], "nice": false, "zero": false}, "axis": null}
},
"layer": [
{"data": {"name": "spec"}, "mark": {"type": "line", "color": "#951919", "strokeWidth": 1.1}, "encoding": {"detail": {"field": "s"}}},
{"data": {"name": "green"}, "mark": {"type": "line", "color": "#3aa84a", "strokeWidth": 1.3}, "encoding": {"detail": {"field": "g"}, "order": {"field": "o"}}},
{"data": {"name": "leaders"}, "mark": {"type": "line", "color": "#111111", "strokeWidth": 1}, "encoding": {"detail": {"field": "g"}, "order": {"field": "o"}}},
{"data": {"name": "nums"}, "mark": {"type": "text", "angle": 270, "font": "Liberation Sans", "fontSize": 13.5, "color": "#2e3a87", "align": "center", "baseline": "middle"}, "encoding": {"text": {"field": "t"}}},
{"data": {"name": "tags"}, "mark": {"type": "text", "font": "Liberation Sans", "fontSize": 21, "color": "#111111", "align": "center", "baseline": "middle"}, "encoding": {"text": {"field": "t"}}},
{"data": {"name": "titles"}, "mark": {"type": "text", "font": "Liberation Sans", "fontSize": 21.5, "color": "#111111", "align": "left", "baseline": "alphabetic"}, "encoding": {"text": {"field": "t"}}}
]
}
